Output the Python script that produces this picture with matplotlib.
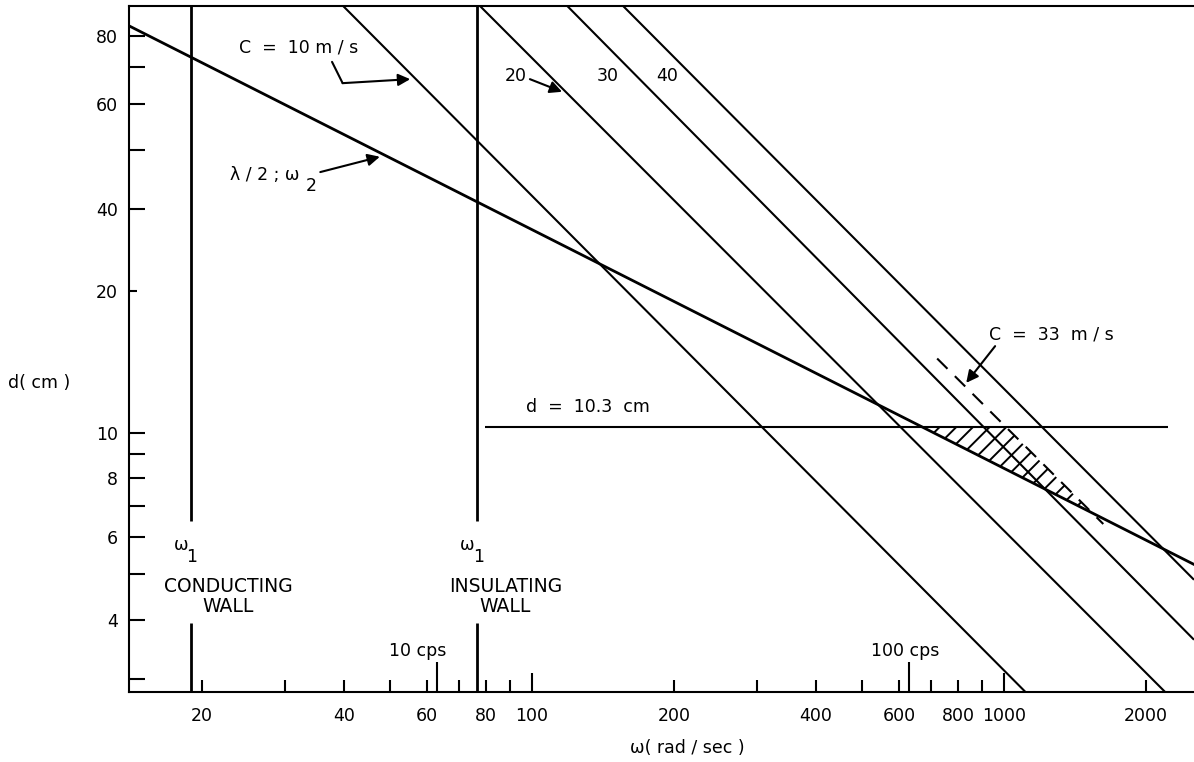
import matplotlib
matplotlib.use("Agg")
import matplotlib.pyplot as plt

# omega in rad/sec, d in cm
c_speeds = ["10", "20", "30", "40"]
c_omega = [[39.8, 1111], [77.6, 2196], [118.8, 2528], [156, 2528]]
c_d = [[81, 2.81], [81, 2.81], [81, 3.63], [81, 4.87]]

c33_omega = [722, 1624]
c33_d = [14.4, 6.4]

half_omega = [14.0, 2528]
half_d = [73.5, 5.25]

d_fixed = 10.3
d_fixed_omega = [79.5, 2228]

hatch_omega = [670, 1009, 1541]
hatch_d = [10.3, 10.3, 6.75]

wall_omega = [18.9, 76.5]
wall_names = ["CONDUCTING\nWALL", "INSULATING\nWALL"]
wall_gap = [6.5, 3.94]

cps_omega = [62.8, 628]
cps_labels = ["10 cps", "100 cps"]
cps_top = 3.25

x_lim = (14.0, 2528)
y_lim = (2.81, 81.0)

xtick_major = [20, 40, 60, 80, 100, 200, 400, 600, 800, 1000, 2000]
xtick_minor = [30, 50, 70, 90, 300, 500, 700, 900]
xtick_long = [100, 1000]
# the scan labels these ticks oddly; keep what is printed
ytick_major = [3, 4, 5, 6, 7, 8, 9, 10, 30, 40, 50, 60, 70]
ytick_labels = ["", "4", "", "6", "", "8", "", "10", "40", "", "60", "", "80"]
ytick_short = [20]

plt.rcParams['font.family'] = ['DejaVu Sans']
plt.rcParams['hatch.linewidth'] = 1.4
fs = 12.5

fig = plt.figure(figsize=(11.94, 7.62), dpi=100)
ax = fig.add_axes([129 / 1194, 70 / 762, 1065 / 1194, 686 / 762])
ax.set_xscale('log')
ax.set_yscale('log')
ax.set_xlim(*x_lim)
ax.set_ylim(*y_lim)

for w, d in zip(c_omega, c_d):
    ax.plot(w, d, color='k', lw=1.5, solid_capstyle='butt')
ax.plot(c33_omega, c33_d, color='k', lw=1.5, dashes=(7, 5))
ax.plot(half_omega, half_d, color='k', lw=2.0)
ax.hlines(d_fixed, *d_fixed_omega, color='k', lw=1.5)
ax.fill(hatch_omega, hatch_d, fill=False, hatch='//', edgecolor='k', lw=0)

for w in wall_omega:
    ax.vlines(w, wall_gap[0], y_lim[1], color='k', lw=2.0)
    ax.vlines(w, y_lim[0], wall_gap[1], color='k', lw=2.0)
ax.vlines(cps_omega, y_lim[0], cps_top, color='k', lw=1.5)

# ticks
ax.set_xticks(xtick_major, labels=[str(v) for v in xtick_major])
ax.set_xticks(xtick_minor, labels=[''] * len(xtick_minor), minor=True)
ax.set_yticks(ytick_major, labels=ytick_labels)
ax.set_yticks(ytick_short, labels=[str(v) for v in ytick_short], minor=True)
ax.tick_params(axis='both', which='both', direction='in', width=1.5,
               labelsize=fs, top=False, right=False)
ax.tick_params(axis='x', which='both', length=8.6, pad=11)
ax.tick_params(axis='y', which='major', length=11.5, pad=8)
ax.tick_params(axis='y', which='minor', length=5.8, pad=8)
for t, loc in zip(ax.xaxis.get_major_ticks(), xtick_major):
    if loc in xtick_long:
        t.tick1line.set_markersize(13.7)

for s in ['left', 'bottom', 'top']:
    ax.spines[s].set_linewidth(1.5)
ax.spines['right'].set_visible(False)

fig.text(39 / 1194, 1 - 383 / 762, "d( cm )", fontsize=fs, ha='center', va='center')
fig.text(687 / 1194, 1 - 748 / 762, "ω( rad / sec )", fontsize=fs, ha='center', va='center')

arrow = dict(arrowstyle='-|>', color='k', lw=1.5, mutation_scale=18,
             shrinkA=0, shrinkB=0)

ax.text(32.1, 66.0, "C  =  10 m / s", fontsize=fs, ha='center', va='center')
ax.annotate("", xy=(39.7, 55.5), xytext=(37.7, 61.6),
            arrowprops=dict(arrowstyle='-', color='k', lw=1.5, shrinkA=0, shrinkB=0))
ax.annotate("", xy=(55.2, 56.6), xytext=(39.7, 55.5), arrowprops=arrow)

ax.text(92.3, 57.4, c_speeds[1], fontsize=fs, ha='center', va='center')
ax.annotate("", xy=(115.8, 53.2), xytext=(99, 56.6), arrowprops=arrow)
ax.text(144.4, 57.4, c_speeds[2], fontsize=fs, ha='center', va='center')
ax.text(193.4, 57.4, c_speeds[3], fontsize=fs, ha='center', va='center')

ax.text(22.9, 35.4, "λ / 2 ; ω", fontsize=fs, ha='left', va='center')
ax.text(34.0, 33.5, "2", fontsize=fs, ha='center', va='center')
ax.annotate("", xy=(47.6, 38.7), xytext=(35.6, 35.9), arrowprops=arrow)

wall_text_omega = [22.7, 87.9]
omega1_pos = [(18.1, 19.0), (72.8, 76.9)]
for name, tw, (wa, wb) in zip(wall_names, wall_text_omega, omega1_pos):
    ax.text(tw, 4.49, name, fontsize=13.5, ha='center', va='center',
            multialignment='center', linespacing=1.1)
    ax.text(wa, 5.78, "ω", fontsize=fs, ha='center', va='center')
    ax.text(wb, 5.45, "1", fontsize=fs, ha='center', va='center')

cps_text_omega = [57.2, 617]
for tw, lab in zip(cps_text_omega, cps_labels):
    ax.text(tw, 3.44, lab, fontsize=fs, ha='center', va='center')

ax.text(131.5, 11.36, "d  =  10.3  cm", fontsize=fs, ha='center', va='center')

ax.text(1258, 16.2, "C  =  33  m / s", fontsize=fs, ha='center', va='center')
ax.annotate("", xy=(832, 12.78), xytext=(958, 15.3), arrowprops=arrow)

fig.savefig("out.png", dpi=100)
